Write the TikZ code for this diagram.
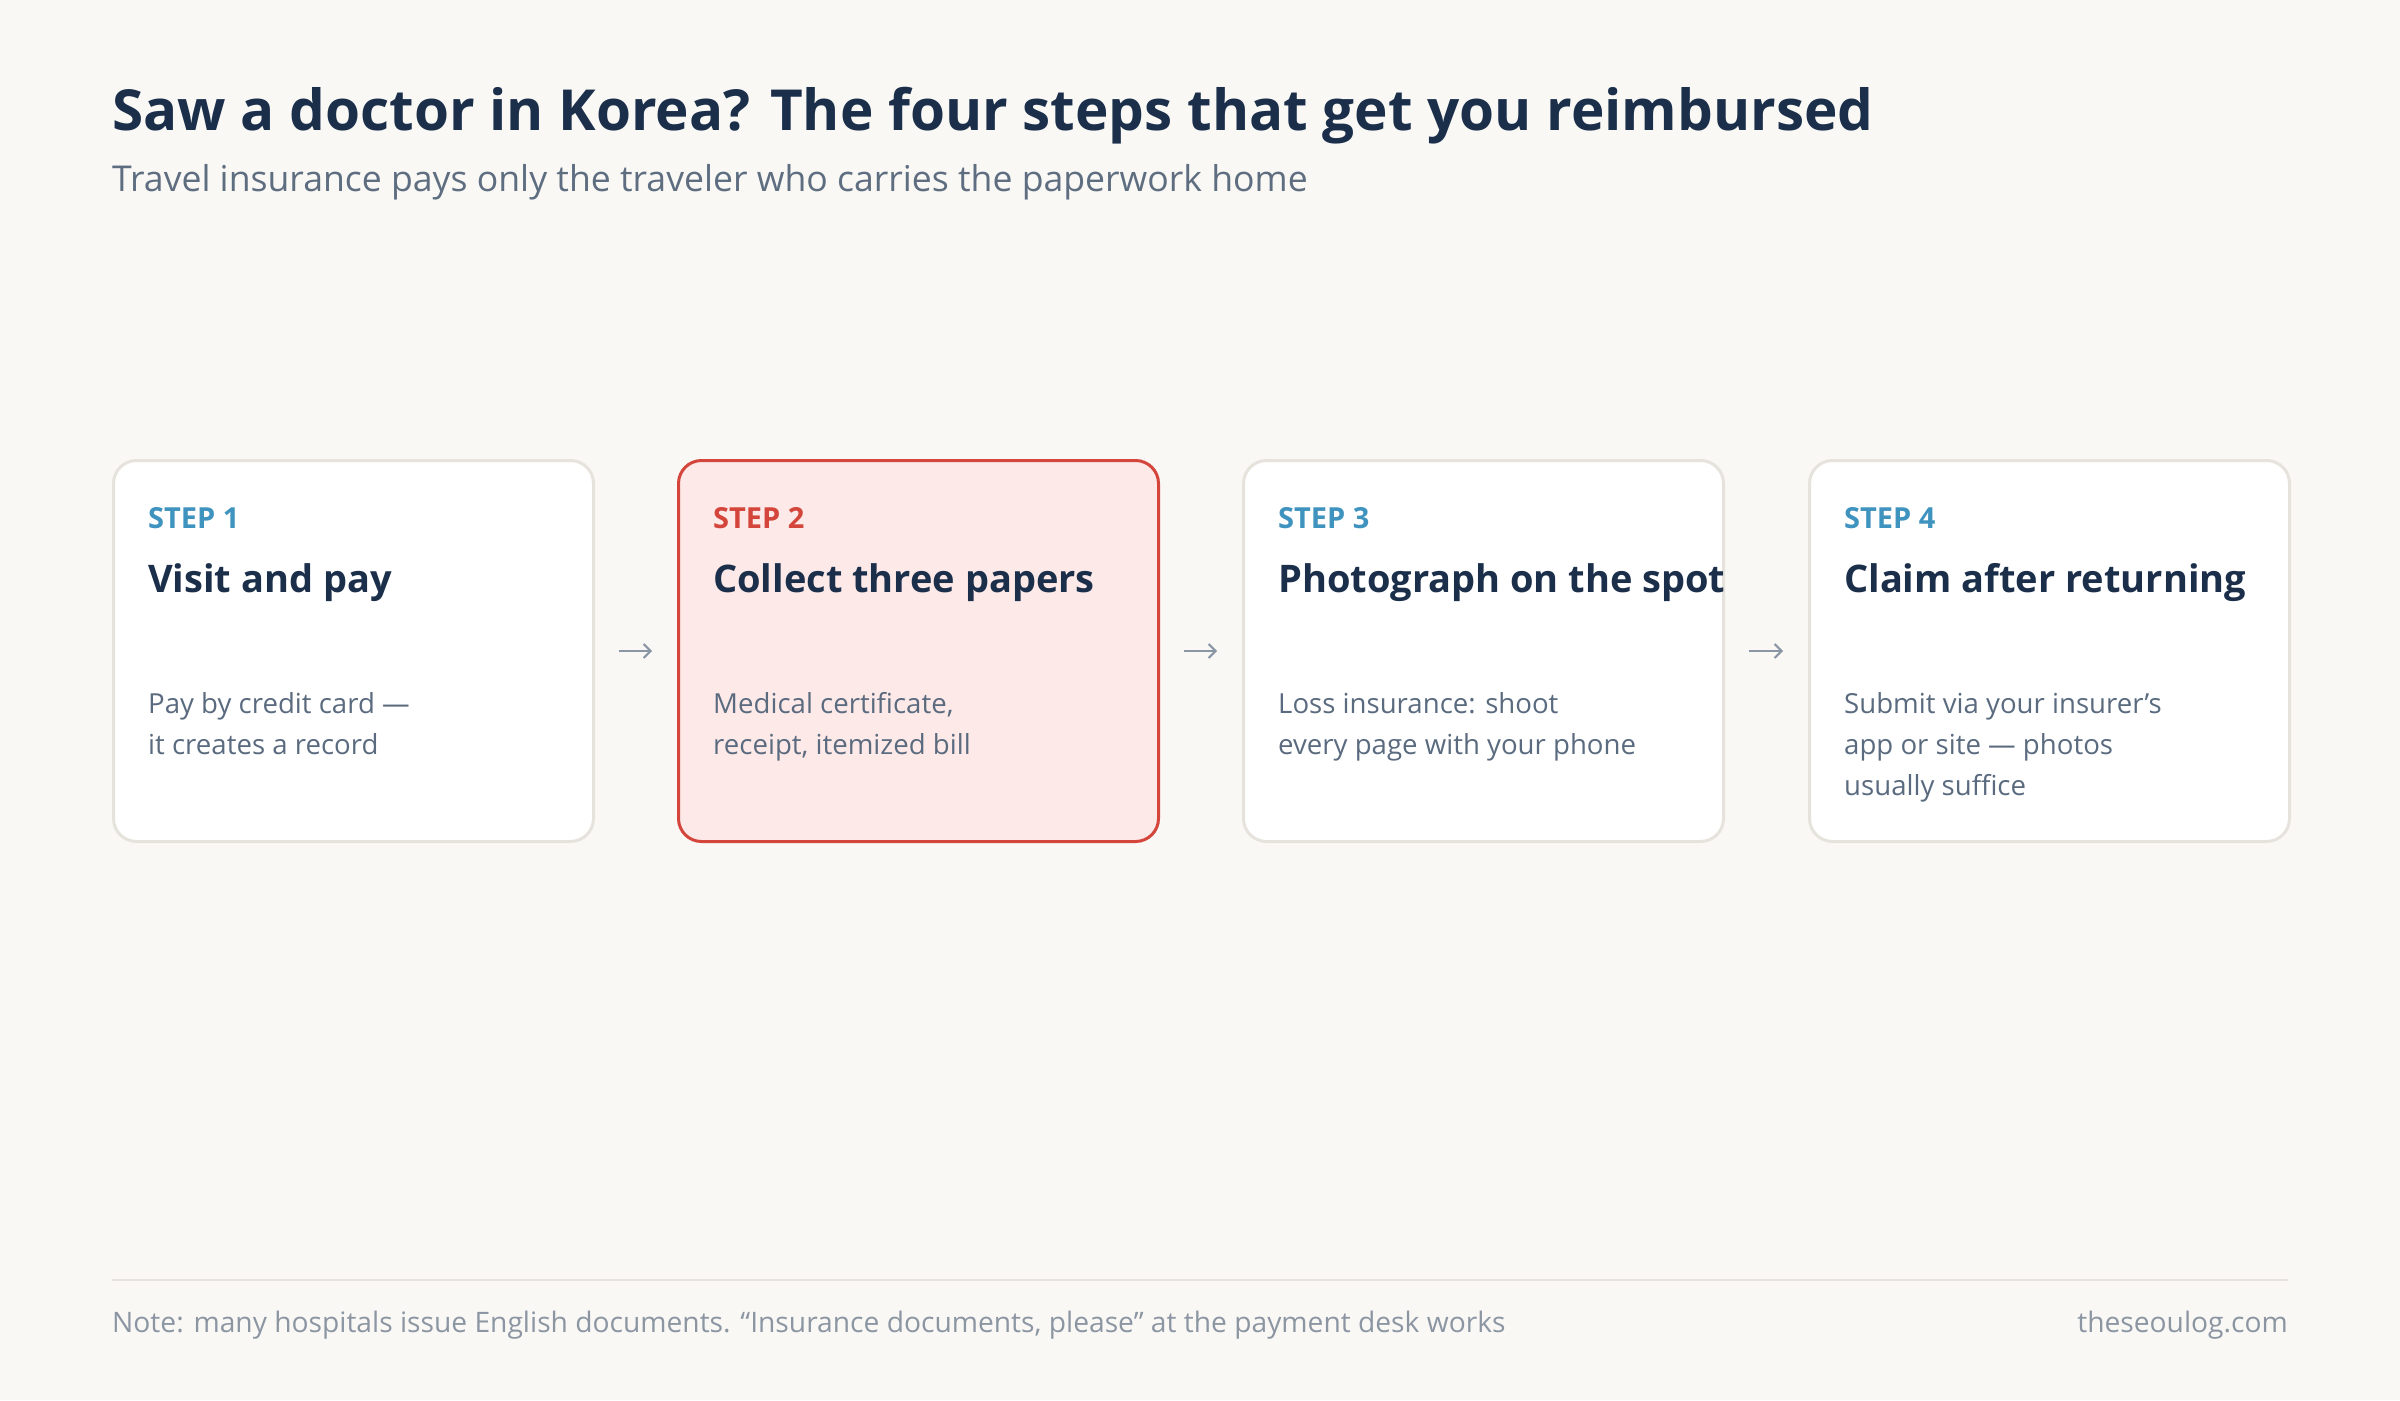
\documentclass[tikz,border=0pt]{standalone}
\usepackage{fontspec}
\setmainfont{Open Sans}
\usetikzlibrary{arrows.meta}
\definecolor{bgc}{HTML}{F9F8F5}
\definecolor{titlec}{HTML}{1B2F4B}
\definecolor{subc}{HTML}{5E6E80}
\definecolor{stepblue}{HTML}{3F93BF}
\definecolor{stepred}{HTML}{D4453B}
\definecolor{cardline}{HTML}{E6E3DC}
\definecolor{redfill}{HTML}{FCE9E8}
\definecolor{bodyc}{HTML}{5B6B7F}
\definecolor{footc}{HTML}{8C96A3}
\definecolor{arrowc}{HTML}{8A96A5}
\tikzset{
  card/.style={draw=cardline, fill=white, line width=3pt, rounded corners=23pt,
    minimum width=480pt, minimum height=381pt, anchor=north west, inner sep=0pt},
  hotcard/.style={card, draw=stepred, fill=redfill},
  steplbl/.style={anchor=base west, inner sep=0pt, text=stepblue, font=\bfseries\fontsize{29}{34}\selectfont},
  cardtitle/.style={anchor=base west, inner sep=0pt, text=titlec, font=\bfseries\fontsize{38}{46}\selectfont},
  bodytxt/.style={anchor=base west, inner sep=0pt, text=bodyc, font=\fontsize{27.6}{41}\selectfont},
  flow/.style={draw=arrowc, line width=2pt, -{Straight Barb[length=7pt, width=14pt, line width=2pt]},
    shorten <=24pt, shorten >=25pt},
}
\begin{document}
\begin{tikzpicture}[x=1pt, y=-1pt]
\fill[bgc] (0,0) rectangle (2400,1400);
\useasboundingbox (0,0) rectangle (2400,1400);

\node[anchor=base west, inner sep=0pt, text=titlec, font=\bfseries\fontsize{56.6}{66}\selectfont] (title) at (112,130)
  {Saw a doctor in Korea? The four steps that get you reimbursed};
\node[anchor=base west, inner sep=0pt, text=subc, font=\fontsize{35.6}{42}\selectfont] (subtitle) at (112,191)
  {Travel insurance pays only the traveler who carries the paperwork home};

% cards
\node[card] (box1) at (112,459) {};
\node[hotcard] (box2) at (677,459) {};
\node[card] (box3) at (1242,459) {};
\node[card] (box4) at (1808,459) {};

% card 1
\node[steplbl] (s1) at ([xshift=36pt,yshift=-69pt]box1.north west) {STEP 1};
\node[cardtitle] (t1) at ([xshift=36pt,yshift=-133pt]box1.north west) {Visit and pay};
\node[bodytxt] (b1a) at ([xshift=36pt,yshift=-254pt]box1.north west) {Pay by credit card —};
\node[bodytxt] (b1b) at ([xshift=36pt,yshift=-295pt]box1.north west) {it creates a record};

% card 2
\node[steplbl, text=stepred] (s2) at ([xshift=36pt,yshift=-69pt]box2.north west) {STEP 2};
\node[cardtitle] (t2) at ([xshift=36pt,yshift=-133pt]box2.north west) {Collect three papers};
\node[bodytxt] (b2a) at ([xshift=36pt,yshift=-254pt]box2.north west) {Medical certificate,};
\node[bodytxt] (b2b) at ([xshift=36pt,yshift=-295pt]box2.north west) {receipt, itemized bill};

% card 3
\node[steplbl] (s3) at ([xshift=36pt,yshift=-69pt]box3.north west) {STEP 3};
\node[cardtitle] (t3) at ([xshift=36pt,yshift=-133pt]box3.north west) {Photograph on the spot};
\node[bodytxt] (b3a) at ([xshift=36pt,yshift=-254pt]box3.north west) {Loss insurance: shoot};
\node[bodytxt] (b3b) at ([xshift=36pt,yshift=-295pt]box3.north west) {every page with your phone};

% card 4
\node[steplbl] (s4) at ([xshift=36pt,yshift=-69pt]box4.north west) {STEP 4};
\node[cardtitle] (t4) at ([xshift=36pt,yshift=-133pt]box4.north west) {Claim after returning};
\node[bodytxt] (b4a) at ([xshift=36pt,yshift=-254pt]box4.north west) {Submit via your insurer’s};
\node[bodytxt] (b4b) at ([xshift=36pt,yshift=-295pt]box4.north west) {app or site — photos};
\node[bodytxt] (b4c) at ([xshift=36pt,yshift=-336pt]box4.north west) {usually suffice};

% connectors
\draw[flow] (box1.east) -- (box2.west);
\draw[flow] (box2.east) -- (box3.west);
\draw[flow] (box3.east) -- (box4.west);

% footer
\coordinate (fl) at (112,1280);
\coordinate (fr) at (2288,1280);
\draw[cardline, line width=2pt] (fl) -- (fr);
\node[anchor=base west, inner sep=0pt, text=footc, font=\fontsize{28.2}{32}\selectfont] (note) at (112,1332)
  {Note: many hospitals issue English documents. “Insurance documents, please” at the payment desk works};
\node[anchor=base east, inner sep=0pt, text=footc, font=\fontsize{28.2}{32}\selectfont] (site) at (2288,1332)
  {theseoulog.com};
\end{tikzpicture}
\end{document}
